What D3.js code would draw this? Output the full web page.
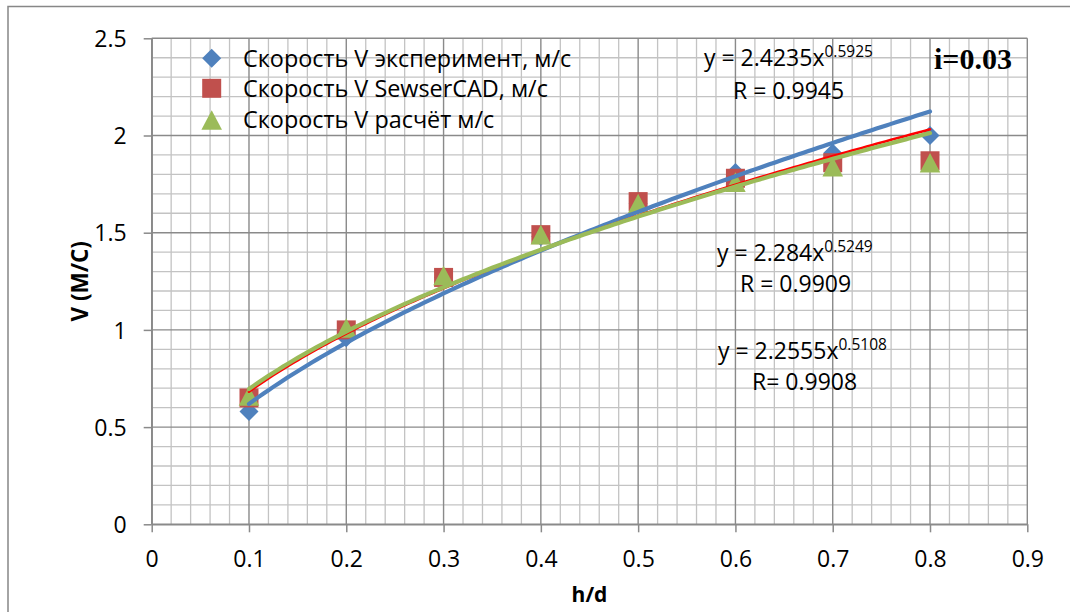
<!DOCTYPE html>
<html>
<head>
<meta charset="utf-8">
<script src="https://cdn.jsdelivr.net/npm/d3@7"></script>
<style>
  body { margin: 0; background: #fff; }
  svg { display: block; }
  text { font-family: "Open Sans", "Noto Sans", sans-serif; fill: #000; }
</style>
</head>
<body>
<svg id="chart" width="1070" height="612"></svg>
<script>
// Relative filling h/d and flow velocity V, m/s (slope i = 0.03)
const hd = [0.1, 0.2, 0.3, 0.4, 0.5, 0.6, 0.7, 0.8];
const vExperiment = [0.58, 0.96, 1.27, 1.48, 1.65, 1.81, 1.91, 2.0];
const vSewerCAD   = [0.65, 1.0, 1.27, 1.49, 1.66, 1.78, 1.86, 1.87];
const vCalc       = [0.66, 1.01, 1.28, 1.49, 1.65, 1.76, 1.84, 1.86];

const seriesNames = [
  "Скорость V эксперимент, м/с",
  "Скорость V SewserCAD, м/с",
  "Скорость V расчёт м/с"
];

// Power trendlines y = a·x^b
const fitA = [2.4235, 2.284, 2.2555];
const fitB = [0.5925, 0.5249, 0.5108];
const fitA_text = ["2.4235", "2.284", "2.2555"];
const fitB_text = ["0.5925", "0.5249", "0.5108"];
const fitR_text = ["R = 0.9945", "R = 0.9909", "R= 0.9908"];

const xTicks = [0, 0.1, 0.2, 0.3, 0.4, 0.5, 0.6, 0.7, 0.8, 0.9];
const yTicks = [0, 0.5, 1, 1.5, 2, 2.5];
const xTickLabels = ["0", "0.1", "0.2", "0.3", "0.4", "0.5", "0.6", "0.7", "0.8", "0.9"];
const yTickLabels = ["0", "0.5", "1", "1.5", "2", "2.5"];

const slopeLabel = "i=0.03";
const xTitle = "h/d";
const yTitle = "V (M/C)";

const colors = { exp: "#4f81bd", cad: "#c0504d", calc: "#9bbb59", fitCad: "#ff0000" };

const svg = d3.select("#chart");
const plot = { left: 151.7, right: 1027.3, top: 38.3, bottom: 524.3 };

const x = d3.scaleLinear().domain([0, 0.9]).range([plot.left, plot.right]);
const y = d3.scaleLinear().domain([0, 2.5]).range([plot.bottom, plot.top]);

// outer chart frame
svg.append("rect")
  .attr("x", 8).attr("y", 6.5).attr("width", 1080).attr("height", 620)
  .attr("fill", "none").attr("stroke", "#878787").attr("stroke-width", 1.5);

// minor grid
const minorX = d3.range(0, 46).map(i => i * 0.02).filter((d, i) => i % 5 !== 0);
const minorY = d3.range(0, 26).map(i => i * 0.1).filter((d, i) => i % 5 !== 0);
const grid = svg.append("g");
grid.selectAll(".mx").data(minorX).join("line")
  .attr("x1", d => x(d)).attr("x2", d => x(d))
  .attr("y1", plot.top).attr("y2", plot.bottom)
  .attr("stroke", "#c3c3c3").attr("stroke-width", 1.3);
grid.selectAll(".my").data(minorY).join("line")
  .attr("x1", plot.left).attr("x2", plot.right)
  .attr("y1", d => y(d)).attr("y2", d => y(d))
  .attr("stroke", "#c3c3c3").attr("stroke-width", 1.3);
// major grid
grid.selectAll(".Mx").data(xTicks).join("line")
  .attr("x1", d => x(d)).attr("x2", d => x(d))
  .attr("y1", plot.top).attr("y2", plot.bottom)
  .attr("stroke", "#8a8a8a").attr("stroke-width", 1.4);
grid.selectAll(".My").data(yTicks).join("line")
  .attr("x1", plot.left).attr("x2", plot.right)
  .attr("y1", d => y(d)).attr("y2", d => y(d))
  .attr("stroke", "#8a8a8a").attr("stroke-width", 1.4);

// axes
const xAxis = svg.append("g").attr("transform", `translate(0,${plot.bottom})`)
  .call(d3.axisBottom(x).tickValues(xTicks).tickFormat((d, i) => xTickLabels[i])
    .tickSizeInner(8).tickSizeOuter(0).tickPadding(18.5));
const yAxis = svg.append("g").attr("transform", `translate(${plot.left},0)`)
  .call(d3.axisLeft(y).tickValues(yTicks).tickFormat((d, i) => yTickLabels[i])
    .tickSizeInner(8).tickSizeOuter(0).tickPadding(17));
[xAxis, yAxis].forEach(a => {
  a.select(".domain").attr("stroke", "#8a8a8a").attr("stroke-width", 1.5);
  a.selectAll(".tick line").attr("stroke", "#8a8a8a").attr("stroke-width", 1.5);
  a.selectAll(".tick text").attr("font-size", 23).attr("font-family", "\"Open Sans\", sans-serif").attr("fill", "#000");
});
yAxis.selectAll(".tick text").attr("dy", "0.36em");

// axis titles
svg.append("text").attr("x", (plot.left + plot.right) / 2).attr("y", 602)
  .attr("text-anchor", "middle").attr("font-size", 21).attr("font-weight", "bold").text(xTitle);
svg.append("text").attr("transform", `translate(88,${(plot.top + plot.bottom) / 2}) rotate(-90)`)
  .attr("text-anchor", "middle").attr("font-size", 22.5).attr("font-weight", "bold").text(yTitle);

// marker shapes
const marker = {
  diamond: (cx, cy, r) => `M${cx},${cy - r}L${cx + r},${cy}L${cx},${cy + r}L${cx - r},${cy}Z`,
  square: (cx, cy, r) => `M${cx - r},${cy - r}H${cx + r}V${cy + r}H${cx - r}Z`,
  triangle: (cx, cy, r) => `M${cx},${cy - r}L${cx + r * 1.05},${cy + r}L${cx - r * 1.05},${cy + r}Z`
};

const series = [
  { vals: vExperiment, shape: "diamond", size: 9.5, color: colors.exp },
  { vals: vSewerCAD, shape: "square", size: 9.5, color: colors.cad },
  { vals: vCalc, shape: "triangle", size: 9.8, color: colors.calc }
];

const pts = svg.append("g");
series.forEach(s => {
  pts.append("g").selectAll("path").data(hd.map((h, i) => [h, s.vals[i]])).join("path")
    .attr("d", d => marker[s.shape](x(d[0]), y(d[1]), s.size))
    .attr("fill", s.color);
});

// trendlines from 0.1 to 0.8
const fitX = d3.range(0, 141).map(i => 0.1 + i * 0.005);
const line = d3.line().x(d => x(d[0])).y(d => y(d[1])).curve(d3.curveLinear);
const fitStyles = [
  { color: colors.exp, w: 4.2 },
  { color: colors.fitCad, w: 2.6 },
  { color: colors.calc, w: 4.2 }
];
[0, 1, 2].forEach(k => {
  svg.append("path")
    .datum(fitX.map(t => [t, fitA[k] * Math.pow(t, fitB[k])]))
    .attr("d", line).attr("fill", "none")
    .attr("stroke", fitStyles[k].color).attr("stroke-width", fitStyles[k].w)
    .attr("stroke-linecap", "round");
});

// trendline equations
const eqPos = [
  { x: 704, y: 66, rx: 733, ry: 99 },
  { x: 717, y: 261, rx: 740, ry: 292 },
  { x: 718, y: 359, rx: 752, ry: 390 }
];
eqPos.forEach((p, k) => {
  const t = svg.append("text").attr("x", p.x).attr("y", p.y).attr("font-size", 23);
  t.append("tspan").text(`y = ${fitA_text[k]}x`);
  t.append("tspan").attr("font-size", 15.5).attr("dy", -9).text(fitB_text[k]);
  svg.append("text").attr("x", p.rx).attr("y", p.ry).attr("font-size", 23).text(fitR_text[k]);
});

// slope label
svg.append("text").attr("x", 934).attr("y", 69).attr("font-size", 30).attr("font-weight", "bold")
  .style("font-family", "\"Liberation Serif\", \"Times New Roman\", serif")
  .text(slopeLabel);

// legend
const legend = svg.append("g");
const legendY = [58.3, 88.3, 120];
series.forEach((s, i) => {
  legend.append("path").attr("d", marker[s.shape](211.7, legendY[i], s.size)).attr("fill", s.color);
  legend.append("text").attr("x", 243).attr("y", legendY[i] + 8.4).attr("font-size", 23.4).text(seriesNames[i]);
});
</script>
</body>
</html>
